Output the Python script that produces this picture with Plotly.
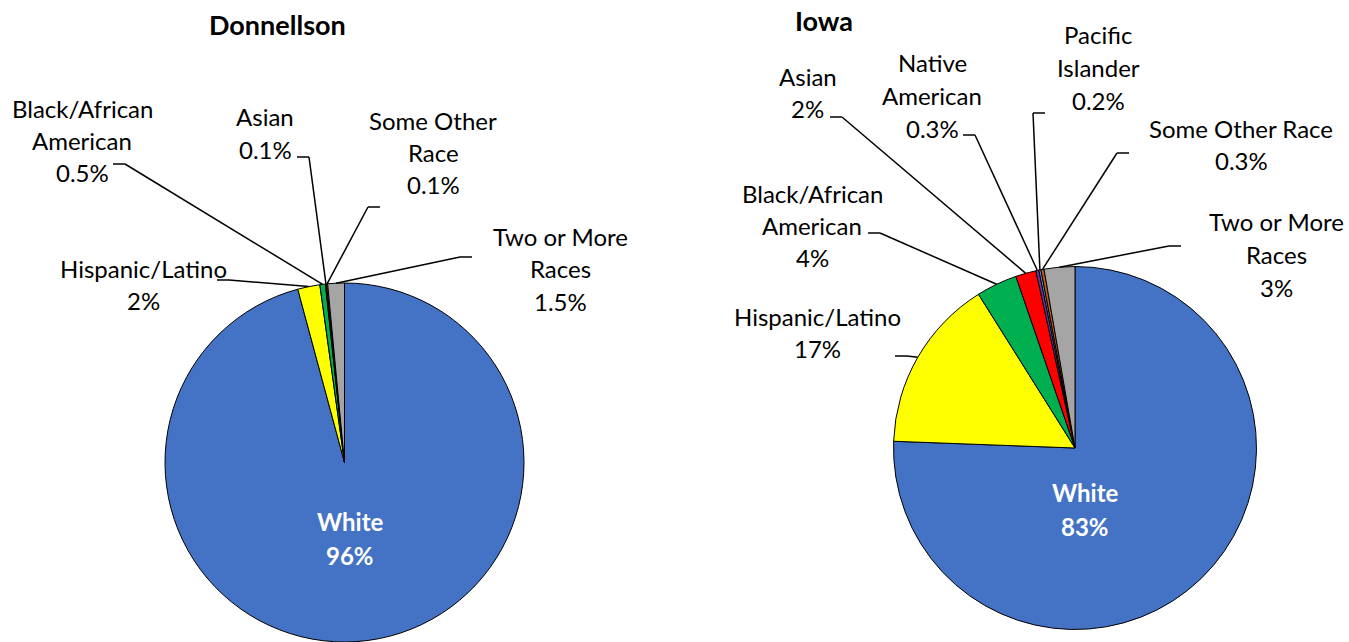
import math
import plotly.graph_objects as go

W, H = 1349, 642
FONT = "Lato"

# ---- data -------------------------------------------------------------
don_categories = ["White", "Hispanic/Latino", "Black/African American", "Asian",
                  "Some Other Race", "Two or More Races"]
don_values = [96, 2, 0.5, 0.1, 0.1, 1.5]
don_label_lines = [["White"], ["Hispanic/Latino"], ["Black/African", "American"], ["Asian"],
                   ["Some Other", "Race"], ["Two or More", "Races"]]

iowa_categories = ["White", "Hispanic/Latino", "Black/African American", "Asian",
                   "Native American", "Pacific Islander", "Some Other Race", "Two or More Races"]
iowa_values = [83, 17, 4, 2, 0.3, 0.2, 0.3, 3]
iowa_label_lines = [["White"], ["Hispanic/Latino"], ["Black/African", "American"], ["Asian"],
                    ["Native", "American"], ["Pacific", "Islander"], ["Some Other Race"],
                    ["Two or More", "Races"]]

COLORS = {
    "White": "#4472C4",
    "Hispanic/Latino": "#FFFF00",
    "Black/African American": "#00B050",
    "Asian": "#FF0000",
    "Native American": "#7030A0",
    "Pacific Islander": "#5B9BD5",
    "Some Other Race": "#C55A11",
    "Two or More Races": "#A5A5A5",
}

# ---- layout of each pie (pixels) ---------------------------------------
# pie: centre x, centre y, radius; title position
# labels: category -> (text centre x, first line y, stub x, stub y, stub direction)
PIES = [
    dict(title="Donnellson", title_xy=(277, 25), cx=344.5, cy=462.5, r=179.5,
         cats=don_categories, vals=don_values, lines=don_label_lines,
         white_xy=(350, 521),
         labels={
             "Hispanic/Latino": (143, 268, 217, 280, 1),
             "Black/African American": (82, 108, 113, 164, 1),
             "Asian": (265, 117, 297, 157, 1),
             "Some Other Race": (433, 120, 380, 207, -1),
             "Two or More Races": (560, 236, 472, 257, -1),
         }),
    dict(title="Iowa", title_xy=(824, 20), cx=1075, cy=448, r=181.5,
         cats=iowa_categories, vals=iowa_values, lines=iowa_label_lines,
         white_xy=(1085, 492),
         labels={
             "Hispanic/Latino": (817, 316, 895, 356, 1),
             "Black/African American": (812, 193, 868, 233, 1),
             "Asian": (808, 76, 830, 117, 1),
             "Native American": (932, 63, 963, 135, 1),
             "Pacific Islander": (1098, 35, 1045, 113, -1),
             "Some Other Race": (1241, 128, 1129, 153, -1),
             "Two or More Races": (1276, 222, 1181, 246, -1),
         }),
]

LINE_STEP = 32.5
STUB = 12


def px(x):
    return x / W


def py(y):
    return 1 - y / H


def fmt(v):
    return f"{v:g}%"


fig = go.Figure()
annotations = []
shapes = []

for pie in PIES:
    cx, cy, r = pie["cx"], pie["cy"], pie["r"]
    fig.add_trace(go.Pie(
        labels=pie["cats"],
        values=pie["vals"],
        sort=False,
        direction="clockwise",
        rotation=0,
        marker=dict(colors=[COLORS[c] for c in pie["cats"]],
                    line=dict(color="#000000", width=1)),
        textinfo="none",
        hoverinfo="label+percent",
        showlegend=False,
        domain=dict(x=[px(cx - r), px(cx + r)], y=[py(cy + r), py(cy - r)]),
    ))

    # title
    tx, ty = pie["title_xy"]
    annotations.append(dict(x=px(tx), y=py(ty), xref="paper", yref="paper",
                            text=f"<b>{pie['title']}</b>", showarrow=False,
                            xanchor="center", yanchor="middle",
                            font=dict(family=FONT, size=27, color="#000000")))

    total = sum(pie["vals"])
    cum = 0.0
    for cat, val, lines in zip(pie["cats"], pie["vals"], pie["lines"]):
        mid = 2 * math.pi * (cum + val / 2) / total
        cum += val
        text_lines = lines + [fmt(val)]
        if cat == "White":
            wx, wy = pie["white_xy"]
            for i, t in enumerate(text_lines):
                annotations.append(dict(x=px(wx), y=py(wy + i * 34), xref="paper", yref="paper",
                                        text=f"<b>{t}</b>", showarrow=False,
                                        xanchor="center", yanchor="middle",
                                        font=dict(family=FONT, size=24, color="#FFFFFF")))
            continue
        lx, ly, sx, sy, sd = pie["labels"][cat]
        for i, t in enumerate(text_lines):
            annotations.append(dict(x=px(lx), y=py(ly + i * LINE_STEP), xref="paper", yref="paper",
                                    text=t, showarrow=False,
                                    xanchor="center", yanchor="middle",
                                    font=dict(family=FONT, size=24, color="#000000")))
        # leader line: short horizontal stub, then straight to the slice edge
        ex = cx + r * math.sin(mid)
        ey = cy - r * math.cos(mid)
        kx = sx + sd * STUB
        shapes.append(dict(type="line", xref="paper", yref="paper",
                           x0=px(sx), y0=py(sy), x1=px(kx), y1=py(sy),
                           line=dict(color="#000000", width=1.5)))
        shapes.append(dict(type="line", xref="paper", yref="paper",
                           x0=px(kx), y0=py(sy), x1=px(ex), y1=py(ey),
                           line=dict(color="#000000", width=1.5)))

fig.update_layout(
    width=W, height=H,
    margin=dict(l=0, r=0, t=0, b=0),
    paper_bgcolor="#FFFFFF",
    plot_bgcolor="#FFFFFF",
    annotations=annotations,
    shapes=shapes,
)

fig.write_html("out.html")
